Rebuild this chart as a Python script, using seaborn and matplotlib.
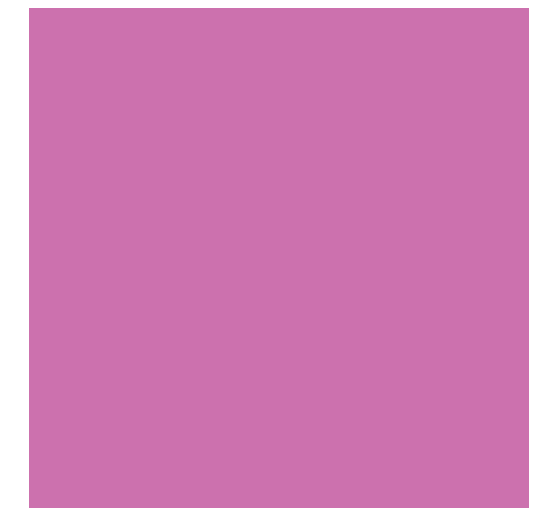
import pandas as pd
import matplotlib.pyplot as plt
import seaborn as sns

# single category filling the whole plot area
categories = ["A"]
values = [1.0]

data = pd.DataFrame({"category": categories, "value": values})

fig = plt.figure(figsize=(5.58, 5.17), dpi=100)
ax = fig.add_axes([29 / 558, 9 / 517, 500 / 558, 500 / 517])
sns.barplot(x="category", y="value", data=data, color="#cc71ae", width=1.0,
            saturation=1, ax=ax)
ax.set_xlim(-0.5, 0.5)
ax.set_ylim(0, max(values))
ax.axis("off")
fig.savefig("out.png", dpi=100)
